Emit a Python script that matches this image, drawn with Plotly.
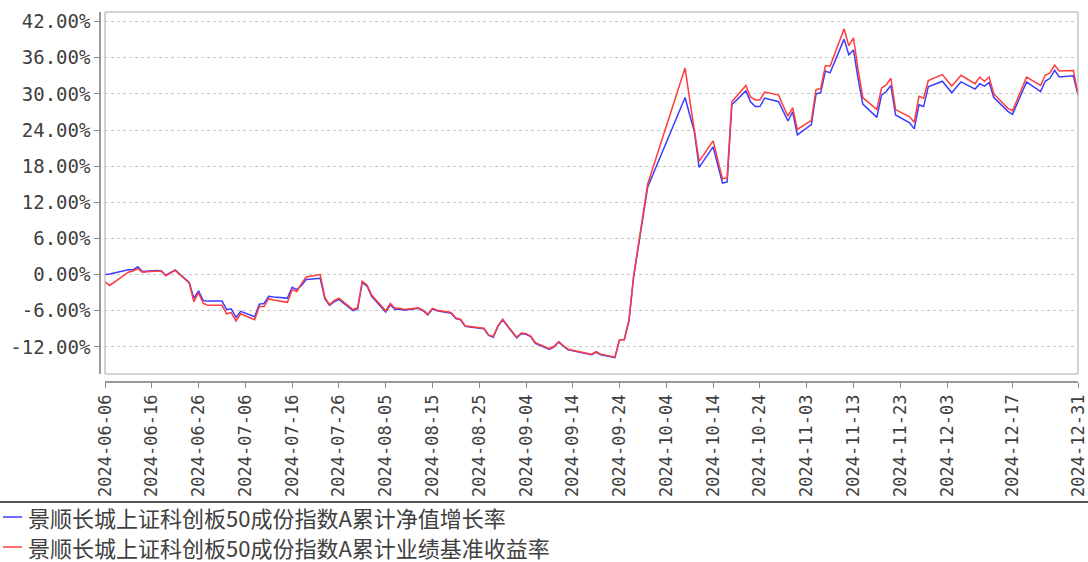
import plotly.graph_objects as go

# ---- data (percent) ----
dates = [
    "2024-06-06", "2024-06-07", "2024-06-11", "2024-06-12", "2024-06-13", "2024-06-14",
    "2024-06-17", "2024-06-18", "2024-06-19", "2024-06-20", "2024-06-21",
    "2024-06-24", "2024-06-25", "2024-06-26", "2024-06-27", "2024-06-28",
    "2024-07-01", "2024-07-02", "2024-07-03", "2024-07-04", "2024-07-05",
    "2024-07-08", "2024-07-09", "2024-07-10", "2024-07-11", "2024-07-12",
    "2024-07-15", "2024-07-16", "2024-07-17", "2024-07-18", "2024-07-19",
    "2024-07-22", "2024-07-23", "2024-07-24", "2024-07-25", "2024-07-26",
    "2024-07-29", "2024-07-30", "2024-07-31", "2024-08-01", "2024-08-02",
    "2024-08-05", "2024-08-06", "2024-08-07", "2024-08-08", "2024-08-09",
    "2024-08-12", "2024-08-13", "2024-08-14", "2024-08-15", "2024-08-16",
    "2024-08-19", "2024-08-20", "2024-08-21", "2024-08-22", "2024-08-23",
    "2024-08-26", "2024-08-27", "2024-08-28", "2024-08-29", "2024-08-30",
    "2024-09-02", "2024-09-03", "2024-09-04", "2024-09-05", "2024-09-06",
    "2024-09-09", "2024-09-10", "2024-09-11", "2024-09-12", "2024-09-13",
    "2024-09-18", "2024-09-19", "2024-09-20",
    "2024-09-23", "2024-09-24", "2024-09-25", "2024-09-26", "2024-09-27",
    "2024-09-30",
    "2024-10-08", "2024-10-09", "2024-10-10", "2024-10-11",
    "2024-10-14", "2024-10-15", "2024-10-16", "2024-10-17", "2024-10-18",
    "2024-10-21", "2024-10-22", "2024-10-23", "2024-10-24", "2024-10-25",
    "2024-10-28", "2024-10-29", "2024-10-30", "2024-10-31", "2024-11-01",
    "2024-11-04", "2024-11-05", "2024-11-06", "2024-11-07", "2024-11-08",
    "2024-11-11", "2024-11-12", "2024-11-13", "2024-11-14", "2024-11-15",
    "2024-11-18", "2024-11-19", "2024-11-20", "2024-11-21", "2024-11-22",
    "2024-11-25", "2024-11-26", "2024-11-27", "2024-11-28", "2024-11-29",
    "2024-12-02", "2024-12-03", "2024-12-04", "2024-12-05", "2024-12-06",
    "2024-12-09", "2024-12-10", "2024-12-11", "2024-12-12", "2024-12-13",
    "2024-12-16", "2024-12-17", "2024-12-18", "2024-12-19", "2024-12-20",
    "2024-12-23", "2024-12-24", "2024-12-25", "2024-12-26", "2024-12-27",
    "2024-12-30", "2024-12-31",
]

nav_growth = [
    0.0, 0.1, 0.8, 0.8, 1.3, 0.5,
    0.7, 0.65, -0.1, 0.3, 0.8,
    -1.3, -3.9, -2.7, -4.3, -4.4,
    -4.4, -5.8, -5.7, -7.1, -6.1,
    -7.0, -4.9, -4.8, -3.6, -3.7,
    -3.9, -2.1, -2.5, -1.8, -0.8,
    -0.6, -4.0, -5.1, -4.5, -4.1,
    -6.0, -5.7, -1.3, -1.9, -3.6,
    -6.2, -5.0, -5.8, -5.7, -5.9,
    -5.6, -6.0, -6.7, -5.7, -6.0,
    -6.4, -7.3, -7.5, -8.6, -8.7,
    -9.0, -10.1, -10.4, -8.6, -7.5,
    -10.5, -9.8, -9.9, -10.3, -11.4,
    -12.4, -12.0, -11.2, -11.9, -12.5,
    -13.3, -12.9, -13.3,
    -13.8, -10.8, -10.8, -7.7, -0.4,
    14.5,
    29.4, 26.5, 23.7, 17.8,
    21.2, 18.2, 15.2, 15.4, 28.2,
    30.5, 28.7, 27.9, 27.9, 29.3,
    28.7, 27.1, 25.5, 27.0, 23.2,
    24.9, 30.0, 30.2, 33.8, 33.5,
    39.1, 36.5, 37.3, 32.5, 28.3,
    26.1, 29.8, 30.4, 31.4, 26.5,
    25.2, 24.2, 28.2, 27.9, 31.2,
    32.1, 31.2, 30.2, 31.1, 32.0,
    30.8, 31.7, 31.3, 31.9, 29.4,
    27.1, 26.6, 28.4, 30.2, 32.0,
    30.4, 32.1, 32.6, 33.9, 32.8,
    33.0, 29.8,
]

benchmark_return = [
    -1.2, -1.8, 0.4, 0.6, 1.0, 0.4,
    0.6, 0.6, -0.2, 0.2, 0.7,
    -1.4, -4.5, -3.0, -4.8, -5.1,
    -5.1, -6.5, -6.3, -7.7, -6.5,
    -7.5, -5.3, -5.3, -4.0, -4.2,
    -4.6, -2.5, -2.8, -1.5, -0.4,
    0.0, -3.8, -5.0, -4.3, -3.9,
    -5.8, -5.5, -1.1, -1.7, -3.4,
    -6.0, -4.8, -5.6, -5.6, -5.8,
    -5.5, -5.9, -6.6, -5.6, -5.9,
    -6.3, -7.2, -7.4, -8.5, -8.6,
    -8.9, -10.0, -10.3, -8.5, -7.4,
    -10.4, -9.7, -9.8, -10.2, -11.3,
    -12.3, -11.9, -11.1, -11.8, -12.4,
    -13.2, -12.8, -13.2,
    -13.7, -10.8, -10.8, -7.6, -0.3,
    15.0,
    34.3, 29.0, 24.2, 18.8,
    22.2, 19.0, 15.9, 16.1, 28.7,
    31.4, 29.5, 29.0, 29.0, 30.3,
    29.8, 28.0, 26.3, 27.7, 24.1,
    25.6, 30.7, 30.9, 34.7, 34.6,
    40.8, 38.0, 39.3, 34.0, 29.4,
    27.4, 31.0, 31.5, 32.6, 27.4,
    26.2, 25.3, 29.6, 29.3, 32.2,
    33.2, 32.2, 31.3, 32.2, 33.1,
    31.7, 32.8, 32.1, 32.8, 30.0,
    27.6, 27.2, 29.0, 31.0, 32.8,
    31.4, 33.1, 33.5, 34.8, 33.8,
    33.9, 30.0,
]

series_names = [
    "景顺长城上证科创板50成份指数A累计净值增长率",
    "景顺长城上证科创板50成份指数A累计业绩基准收益率",
]

y_tick_values = [-12, -6, 0, 6, 12, 18, 24, 30, 36, 42]
y_tick_labels = ["-12.00%", "-6.00%", "0.00%", "6.00%", "12.00%",
                 "18.00%", "24.00%", "30.00%", "36.00%", "42.00%"]

x_tick_labels = [
    "2024-06-06", "2024-06-16", "2024-06-26", "2024-07-06", "2024-07-16",
    "2024-07-26", "2024-08-05", "2024-08-15", "2024-08-25", "2024-09-04",
    "2024-09-14", "2024-09-24", "2024-10-04", "2024-10-14", "2024-10-24",
    "2024-11-03", "2024-11-13", "2024-11-23", "2024-12-03", "2024-12-17",
    "2024-12-31",
]

# ---- figure ----
W, H = 1088, 562
BLUE = "#3c3cff"
RED = "#ff3c3c"
colors = [BLUE, RED]

fig = go.Figure()
fig.add_trace(go.Scatter(x=dates, y=nav_growth, mode="lines", name=series_names[0],
                         line=dict(color=BLUE, width=1.5)))
fig.add_trace(go.Scatter(x=dates, y=benchmark_return, mode="lines", name=series_names[1],
                         line=dict(color=RED, width=1.5)))

y_font = dict(family="DejaVu Sans Mono", size=19, color="#404040")
x_font = dict(family="DejaVu Sans Mono", size=17, color="#404040")

# legend drawn below the separator (sample line + label)
legend_rows_px = [517, 547]
shapes = [
    dict(type="rect", xref="x domain", yref="y domain", x0=0, x1=1, y0=0, y1=1,
         line=dict(color="#a8a8a8", width=1), fillcolor="rgba(0,0,0,0)", layer="above"),
    dict(type="line", xref="paper", yref="paper", x0=0, x1=1,
         y0=1 - 502 / H, y1=1 - 502 / H, line=dict(color="#555555", width=2)),
]
annotations = []
for name, col, ypx in zip(series_names, colors, legend_rows_px):
    yp = 1 - ypx / H
    shapes.append(dict(type="line", xref="paper", yref="paper",
                       x0=3 / W, x1=22 / W, y0=yp, y1=yp,
                       line=dict(color=col, width=1.5)))
    annotations.append(dict(xref="paper", yref="paper", x=27 / W, y=yp,
                            xanchor="left", yanchor="middle", showarrow=False,
                            text=name, borderpad=0,
                            font=dict(family="Noto Sans CJK SC", size=22, color="#404040")))

fig.update_layout(
    width=W, height=H,
    margin=dict(l=0, r=0, t=0, b=0, autoexpand=False),
    paper_bgcolor="white", plot_bgcolor="white",
    showlegend=False,
    xaxis=dict(
        type="date",
        domain=[105 / W, 1078 / W],
        anchor="free", position=1 - 382 / H,
        range=["2024-06-06", "2024-12-31"],
        tickmode="array", tickvals=x_tick_labels, ticktext=x_tick_labels,
        tickangle=-90, tickfont=x_font,
        ticks="outside", ticklen=5, tickcolor="#888888", tickwidth=1,
        showline=True, linecolor="#999999", linewidth=1.5,
        showgrid=False, zeroline=False, automargin=False,
    ),
    yaxis=dict(
        domain=[1 - 374 / H, 1 - 12 / H],
        anchor="free", position=100 / W,
        range=[-16.5, 43.6],
        tickmode="array", tickvals=y_tick_values, ticktext=y_tick_labels,
        tickfont=y_font,
        ticks="outside", ticklen=5, tickcolor="#888888", tickwidth=1,
        showline=True, linecolor="#999999", linewidth=1.5,
        showgrid=True, gridcolor="#c8c8c8", gridwidth=1, griddash="3px,3px",
        zeroline=False, automargin=False,
    ),
    shapes=shapes,
    annotations=annotations,
)

# remove the browser's default page margin so the figure sits at the window origin
fig.write_html("out.html",
               config={"displayModeBar": False},
               post_script="document.body.style.margin='0px';document.body.style.overflow='hidden';")
